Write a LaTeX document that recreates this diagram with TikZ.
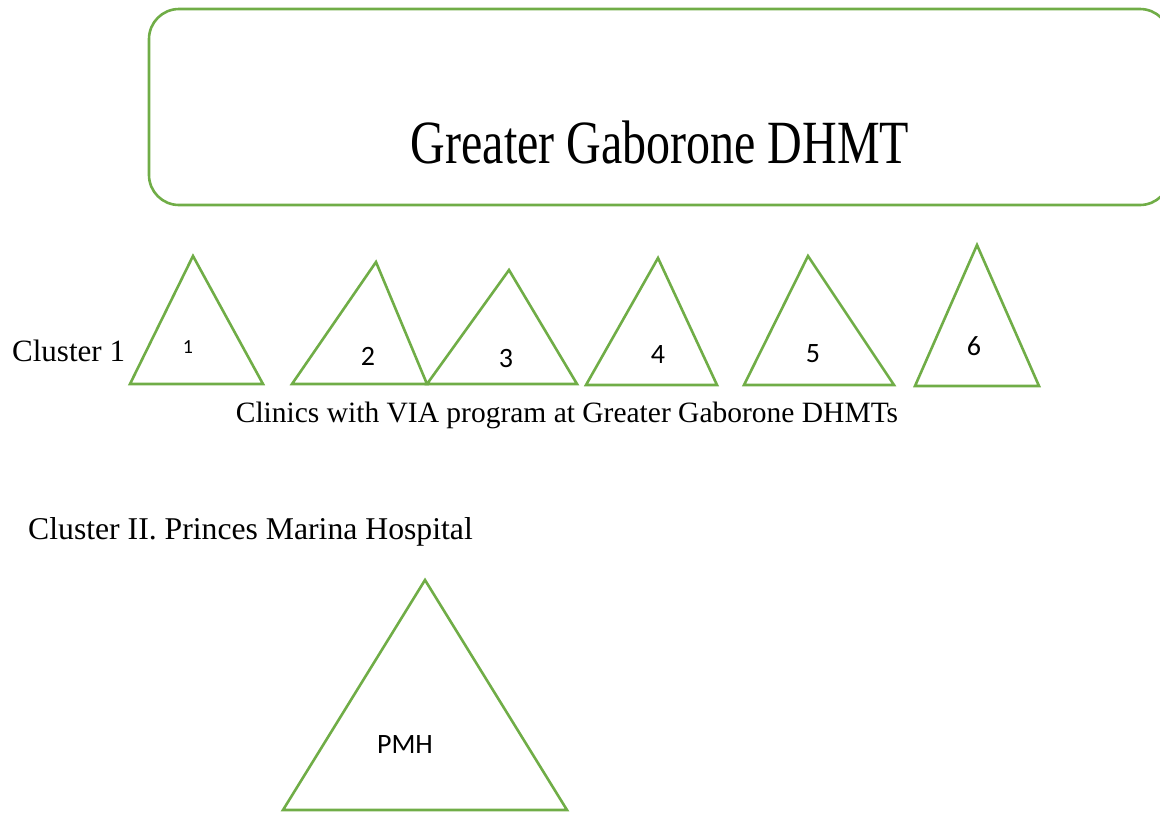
\documentclass[tikz,border=0pt]{standalone}
\usepackage{fontspec}
\setmainfont{Liberation Serif}
\newfontfamily\calib{Carlito}
\begin{document}
\begin{tikzpicture}[x=1pt,y=-1pt,
  gline/.style={draw={rgb,255:red,112;green,173;blue,71}, line width=2.6pt, line join=miter},
  serif/.style={font=\rmfamily\fontsize{29.5}{34}\selectfont, inner sep=0pt, anchor=base west},
  digit/.style={font=\calib\fontsize{28}{30}\selectfont, inner sep=0pt}]
\useasboundingbox (0,0) rectangle (1160,812);
\clip (0,0) rectangle (1160,812);
% top box
\draw[gline, rounded corners=30pt] (149,9) rectangle (1170,205);
\node[font=\rmfamily\fontsize{48}{54}\selectfont, inner sep=0pt, anchor=base] (title) at (660,163) {\scalebox{1}[1.28]{Greater Gaborone DHMT}};
% cluster 1
\node[serif, font=\rmfamily\fontsize{31}{34}\selectfont] (c1) at (12,361) {Cluster 1};
\draw[gline] (130,384) -- (193,256) -- (263,384) -- cycle;
\node[digit, font=\calib\fontsize{20}{22}\selectfont] (n1) at (188,347) {1};
\draw[gline] (292,384) -- (376,262) -- (427,384) -- cycle;
\node[digit] (n2) at (368,356) {2};
\draw[gline] (427,384) -- (509,270) -- (577,384) -- cycle;
\node[digit] (n3) at (506,359) {3};
\draw[gline] (586,385) -- (658,258) -- (717,385) -- cycle;
\node[digit] (n4) at (658,355) {4};
\draw[gline] (744,385) -- (808,256) -- (894,385) -- cycle;
\node[digit] (n5) at (813,354) {5};
\draw[gline] (915,386) -- (977,245) -- (1039,386) -- cycle;
\node[digit] (n6) at (974,346) {6};
\node[serif, anchor=base] (clin) at (567,422) {Clinics with VIA program at Greater Gaborone DHMTs};
% cluster 2
\node[serif, font=\rmfamily\fontsize{31.7}{34}\selectfont] (c2) at (28,539) {Cluster II. Princes Marina Hospital};
\draw[gline] (283,810) -- (425,580) -- (567,810) -- cycle;
\node[digit, anchor=base] (pmh) at (405,753) {PMH};
\end{tikzpicture}
\end{document}
